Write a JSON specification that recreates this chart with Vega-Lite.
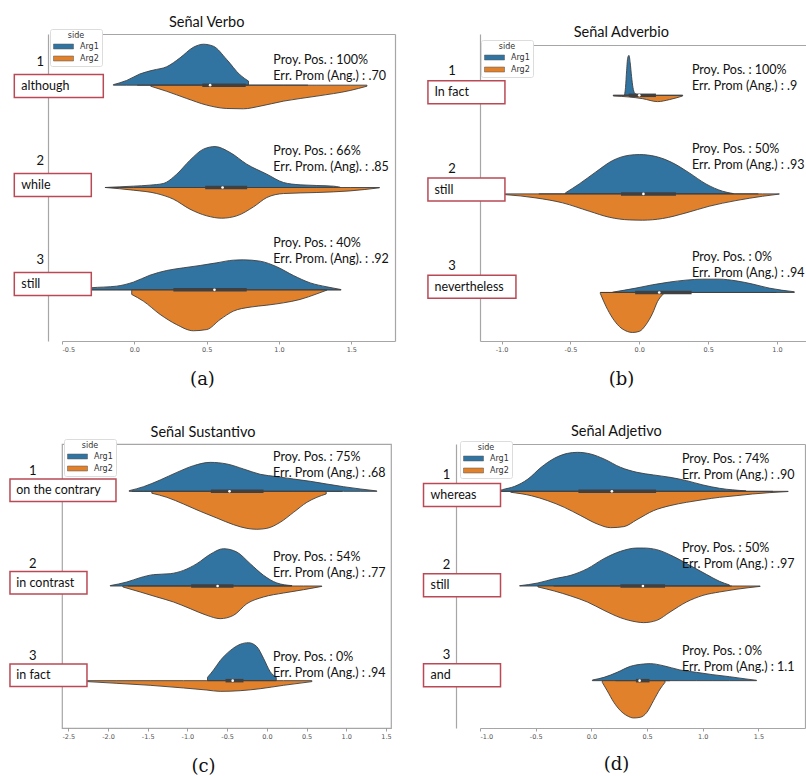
{
"$schema":"https://vega.github.io/schema/vega-lite/v6.json",
"padding":{"left":6,"top":14,"right":0,"bottom":0},
"config":{
 "view":{"stroke":"#a6a6a6","strokeWidth":1.2},
 "font":"Lato",
 "axis":{"grid":false,"domainColor":"#a6a6a6","domainWidth":1.2,"tickColor":"#888888","tickSize":3,"tickWidth":0.8,"labelFont":"DejaVu Sans","labelFontSize":6.5,"labelColor":"#555555","labelPadding":2,"titleFont":"DejaVu Serif","titleFontSize":18,"titleFontWeight":"normal","titleColor":"#111111"},
 "legend":{"titleFontSize":8,"titleFontWeight":"normal","titleFont":"DejaVu Sans","titleColor":"#333333","titleAnchor":"middle","titlePadding":1,"labelFontSize":8,"labelFont":"DejaVu Sans","labelColor":"#333333","labelOffset":11,"symbolType":"M-2,-0.5H2V0.5H-2Z","symbolSize":100,"symbolOffset":5,"symbolStrokeColor":"#555555","symbolStrokeWidth":0.5,"padding":3,"fillColor":"white","strokeColor":"#dcdcdc","cornerRadius":2,"rowPadding":2}
},
"datasets":{
"av":[
{"r":1,"s":"Arg1","x":-0.145,"d":0.005},{"r":1,"s":"Arg1","x":-0.053,"d":0.046},{"r":1,"s":"Arg1","x":0.039,"d":0.11},{"r":1,"s":"Arg1","x":0.131,"d":0.147},{"r":1,"s":"Arg1","x":0.224,"d":0.18},{"r":1,"s":"Arg1","x":0.316,"d":0.267},{"r":1,"s":"Arg1","x":0.408,"d":0.37},{"r":1,"s":"Arg1","x":0.478,"d":0.4},{"r":1,"s":"Arg1","x":0.547,"d":0.38},{"r":1,"s":"Arg1","x":0.639,"d":0.25},{"r":1,"s":"Arg1","x":0.731,"d":0.1},{"r":1,"s":"Arg1","x":0.789,"d":0.04},
{"r":1,"s":"Arg2","x":0.113,"d":0.01},{"r":1,"s":"Arg2","x":0.224,"d":0.06},{"r":1,"s":"Arg2","x":0.362,"d":0.13},{"r":1,"s":"Arg2","x":0.501,"d":0.195},{"r":1,"s":"Arg2","x":0.639,"d":0.228},{"r":1,"s":"Arg2","x":0.754,"d":0.231},{"r":1,"s":"Arg2","x":0.87,"d":0.205},{"r":1,"s":"Arg2","x":1.031,"d":0.156},{"r":1,"s":"Arg2","x":1.262,"d":0.107},{"r":1,"s":"Arg2","x":1.492,"d":0.052},{"r":1,"s":"Arg2","x":1.608,"d":0.01},
{"r":2,"s":"Arg1","x":-0.203,"d":0.0},{"r":2,"s":"Arg1","x":-0.007,"d":0.013},{"r":2,"s":"Arg1","x":0.108,"d":0.023},{"r":2,"s":"Arg1","x":0.2,"d":0.039},{"r":2,"s":"Arg1","x":0.293,"d":0.13},{"r":2,"s":"Arg1","x":0.385,"d":0.267},{"r":2,"s":"Arg1","x":0.478,"d":0.375},{"r":2,"s":"Arg1","x":0.558,"d":0.4},{"r":2,"s":"Arg1","x":0.662,"d":0.342},{"r":2,"s":"Arg1","x":0.777,"d":0.228},{"r":2,"s":"Arg1","x":0.916,"d":0.13},{"r":2,"s":"Arg1","x":1.031,"d":0.049},{"r":2,"s":"Arg1","x":1.146,"d":0.026},{"r":2,"s":"Arg1","x":1.377,"d":0.013},{"r":2,"s":"Arg1","x":1.423,"d":0.003},
{"r":2,"s":"Arg2","x":-0.2,"d":0.0},{"r":2,"s":"Arg2","x":-0.007,"d":0.026},{"r":2,"s":"Arg2","x":0.155,"d":0.059},{"r":2,"s":"Arg2","x":0.27,"d":0.114},{"r":2,"s":"Arg2","x":0.385,"d":0.212},{"r":2,"s":"Arg2","x":0.501,"d":0.277},{"r":2,"s":"Arg2","x":0.604,"d":0.3},{"r":2,"s":"Arg2","x":0.708,"d":0.277},{"r":2,"s":"Arg2","x":0.824,"d":0.189},{"r":2,"s":"Arg2","x":0.916,"d":0.098},{"r":2,"s":"Arg2","x":1.031,"d":0.059},{"r":2,"s":"Arg2","x":1.262,"d":0.049},{"r":2,"s":"Arg2","x":1.492,"d":0.033},{"r":2,"s":"Arg2","x":1.695,"d":0.003},
{"r":3,"s":"Arg1","x":-0.42,"d":0.0},{"r":3,"s":"Arg1","x":-0.3,"d":0.02},{"r":3,"s":"Arg1","x":-0.122,"d":0.036},{"r":3,"s":"Arg1","x":-0.007,"d":0.075},{"r":3,"s":"Arg1","x":0.108,"d":0.143},{"r":3,"s":"Arg1","x":0.224,"d":0.189},{"r":3,"s":"Arg1","x":0.339,"d":0.215},{"r":3,"s":"Arg1","x":0.455,"d":0.238},{"r":3,"s":"Arg1","x":0.57,"d":0.264},{"r":3,"s":"Arg1","x":0.685,"d":0.29},{"r":3,"s":"Arg1","x":0.754,"d":0.293},{"r":3,"s":"Arg1","x":0.87,"d":0.28},{"r":3,"s":"Arg1","x":0.985,"d":0.225},{"r":3,"s":"Arg1","x":1.1,"d":0.14},{"r":3,"s":"Arg1","x":1.216,"d":0.068},{"r":3,"s":"Arg1","x":1.331,"d":0.029},{"r":3,"s":"Arg1","x":1.428,"d":0.003},
{"r":3,"s":"Arg2","x":-0.018,"d":0.045},{"r":3,"s":"Arg2","x":0.062,"d":0.11},{"r":3,"s":"Arg2","x":0.178,"d":0.24},{"r":3,"s":"Arg2","x":0.293,"d":0.34},{"r":3,"s":"Arg2","x":0.408,"d":0.4},{"r":3,"s":"Arg2","x":0.501,"d":0.388},{"r":3,"s":"Arg2","x":0.593,"d":0.29},{"r":3,"s":"Arg2","x":0.685,"d":0.208},{"r":3,"s":"Arg2","x":0.8,"d":0.169},{"r":3,"s":"Arg2","x":0.916,"d":0.15},{"r":3,"s":"Arg2","x":1.031,"d":0.127},{"r":3,"s":"Arg2","x":1.146,"d":0.094},{"r":3,"s":"Arg2","x":1.262,"d":0.039},{"r":3,"s":"Arg2","x":1.331,"d":0.003}
],
"ar":[
{"r":1,"num":"1","label":"although","l1":"Proy. Pos. :  100%","l2":"Err. Prom (Ang.) : .70","wlo":0.02,"whi":1.2,"q1":0.47,"q3":0.77,"med":0.524},
{"r":2,"num":"2","label":"while","l1":"Proy. Pos. : 66%","l2":"Err. Prom. (Ang). : .85","wlo":0.055,"whi":1.215,"q1":0.49,"q3":0.78,"med":0.61},
{"r":3,"num":"3","label":"still","l1":"Proy. Pos. :  40%","l2":"Err. Prom. (Ang). : .92","wlo":-0.4,"whi":1.43,"q1":0.27,"q3":0.777,"med":0.554}
],
"bv":[
{"r":1,"s":"Arg1","x":-0.107,"d":0.005},{"r":1,"s":"Arg1","x":-0.1,"d":0.08},{"r":1,"s":"Arg1","x":-0.092,"d":0.25},{"r":1,"s":"Arg1","x":-0.084,"d":0.38},{"r":1,"s":"Arg1","x":-0.075,"d":0.405},{"r":1,"s":"Arg1","x":-0.066,"d":0.33},{"r":1,"s":"Arg1","x":-0.056,"d":0.19},{"r":1,"s":"Arg1","x":-0.046,"d":0.08},{"r":1,"s":"Arg1","x":-0.035,"d":0.025},{"r":1,"s":"Arg1","x":-0.017,"d":0.008},
{"r":1,"s":"Arg2","x":-0.189,"d":0.007},{"r":1,"s":"Arg2","x":-0.073,"d":0.017},{"r":1,"s":"Arg2","x":0.024,"d":0.034},{"r":1,"s":"Arg2","x":0.133,"d":0.064},{"r":1,"s":"Arg2","x":0.218,"d":0.044},{"r":1,"s":"Arg2","x":0.315,"d":0.007},
{"r":2,"s":"Arg1","x":-0.537,"d":0.01},{"r":2,"s":"Arg1","x":-0.436,"d":0.101},{"r":2,"s":"Arg1","x":-0.315,"d":0.223},{"r":2,"s":"Arg1","x":-0.194,"d":0.338},{"r":2,"s":"Arg1","x":-0.073,"d":0.392},{"r":2,"s":"Arg1","x":0.0,"d":0.399},{"r":2,"s":"Arg1","x":0.121,"d":0.379},{"r":2,"s":"Arg1","x":0.242,"d":0.315},{"r":2,"s":"Arg1","x":0.363,"d":0.213},{"r":2,"s":"Arg1","x":0.484,"d":0.101},{"r":2,"s":"Arg1","x":0.605,"d":0.027},{"r":2,"s":"Arg1","x":0.683,"d":0.003},
{"r":2,"s":"Arg2","x":-1.1,"d":0.0},{"r":2,"s":"Arg2","x":-0.98,"d":0.007},{"r":2,"s":"Arg2","x":-0.75,"d":0.041},{"r":2,"s":"Arg2","x":-0.557,"d":0.091},{"r":2,"s":"Arg2","x":-0.363,"d":0.176},{"r":2,"s":"Arg2","x":-0.218,"d":0.237},{"r":2,"s":"Arg2","x":-0.073,"d":0.264},{"r":2,"s":"Arg2","x":0.024,"d":0.267},{"r":2,"s":"Arg2","x":0.169,"d":0.25},{"r":2,"s":"Arg2","x":0.339,"d":0.193},{"r":2,"s":"Arg2","x":0.508,"d":0.125},{"r":2,"s":"Arg2","x":0.702,"d":0.068},{"r":2,"s":"Arg2","x":0.896,"d":0.024},{"r":2,"s":"Arg2","x":1.017,"d":0.002},
{"r":3,"s":"Arg1","x":-0.194,"d":0.003},{"r":3,"s":"Arg1","x":-0.024,"d":0.044},{"r":3,"s":"Arg1","x":0.097,"d":0.078},{"r":3,"s":"Arg1","x":0.218,"d":0.105},{"r":3,"s":"Arg1","x":0.339,"d":0.125},{"r":3,"s":"Arg1","x":0.46,"d":0.135},{"r":3,"s":"Arg1","x":0.581,"d":0.135},{"r":3,"s":"Arg1","x":0.702,"d":0.118},{"r":3,"s":"Arg1","x":0.823,"d":0.085},{"r":3,"s":"Arg1","x":0.944,"d":0.044},{"r":3,"s":"Arg1","x":1.126,"d":0.007},
{"r":3,"s":"Arg2","x":-0.283,"d":0.01},{"r":3,"s":"Arg2","x":-0.242,"d":0.14},{"r":3,"s":"Arg2","x":-0.194,"d":0.26},{"r":3,"s":"Arg2","x":-0.145,"d":0.345},{"r":3,"s":"Arg2","x":-0.097,"d":0.39},{"r":3,"s":"Arg2","x":-0.048,"d":0.406},{"r":3,"s":"Arg2","x":0.0,"d":0.395},{"r":3,"s":"Arg2","x":0.048,"d":0.328},{"r":3,"s":"Arg2","x":0.097,"d":0.21},{"r":3,"s":"Arg2","x":0.133,"d":0.091},{"r":3,"s":"Arg2","x":0.174,"d":0.017}
],
"br":[
{"r":1,"num":"1","label":"In fact","l1":"Proy. Pos. :  100%","l2":"Err. Prom (Ang.) : .9","wlo":-0.189,"whi":0.315,"q1":-0.077,"q3":0.121,"med":0.0},
{"r":2,"num":"2","label":"still","l1":"Proy. Pos. :  50%","l2":"Err. Prom (Ang.) : .93","wlo":-0.73,"whi":0.865,"q1":-0.133,"q3":0.266,"med":0.03},
{"r":3,"num":"3","label":"nevertheless","l1":"Proy. Pos. :  0%","l2":"Err. Prom (Ang.) : .94","wlo":-0.283,"whi":0.995,"q1":-0.03,"q3":0.38,"med":0.145}
],
"cv":[
{"r":1,"s":"Arg1","x":-1.733,"d":0.007},{"r":1,"s":"Arg1","x":-1.553,"d":0.049},{"r":1,"s":"Arg1","x":-1.343,"d":0.12},{"r":1,"s":"Arg1","x":-1.133,"d":0.2},{"r":1,"s":"Arg1","x":-0.923,"d":0.271},{"r":1,"s":"Arg1","x":-0.713,"d":0.306},{"r":1,"s":"Arg1","x":-0.504,"d":0.289},{"r":1,"s":"Arg1","x":-0.294,"d":0.236},{"r":1,"s":"Arg1","x":-0.084,"d":0.18},{"r":1,"s":"Arg1","x":0.126,"d":0.155},{"r":1,"s":"Arg1","x":0.336,"d":0.13},{"r":1,"s":"Arg1","x":0.546,"d":0.106},{"r":1,"s":"Arg1","x":0.755,"d":0.077},{"r":1,"s":"Arg1","x":0.965,"d":0.049},{"r":1,"s":"Arg1","x":1.175,"d":0.025},{"r":1,"s":"Arg1","x":1.385,"d":0.004},
{"r":1,"s":"Arg2","x":-1.448,"d":0.02},{"r":1,"s":"Arg2","x":-1.259,"d":0.063},{"r":1,"s":"Arg2","x":-1.049,"d":0.134},{"r":1,"s":"Arg2","x":-0.839,"d":0.211},{"r":1,"s":"Arg2","x":-0.629,"d":0.282},{"r":1,"s":"Arg2","x":-0.42,"d":0.352},{"r":1,"s":"Arg2","x":-0.252,"d":0.391},{"r":1,"s":"Arg2","x":-0.126,"d":0.401},{"r":1,"s":"Arg2","x":0.0,"d":0.391},{"r":1,"s":"Arg2","x":0.168,"d":0.327},{"r":1,"s":"Arg2","x":0.336,"d":0.222},{"r":1,"s":"Arg2","x":0.504,"d":0.116},{"r":1,"s":"Arg2","x":0.63,"d":0.063},{"r":1,"s":"Arg2","x":0.747,"d":0.028},
{"r":2,"s":"Arg1","x":-1.972,"d":0.004},{"r":2,"s":"Arg1","x":-1.763,"d":0.042},{"r":2,"s":"Arg1","x":-1.595,"d":0.088},{"r":2,"s":"Arg1","x":-1.427,"d":0.12},{"r":2,"s":"Arg1","x":-1.217,"d":0.13},{"r":2,"s":"Arg1","x":-1.049,"d":0.165},{"r":2,"s":"Arg1","x":-0.881,"d":0.236},{"r":2,"s":"Arg1","x":-0.713,"d":0.335},{"r":2,"s":"Arg1","x":-0.546,"d":0.394},{"r":2,"s":"Arg1","x":-0.378,"d":0.359},{"r":2,"s":"Arg1","x":-0.21,"d":0.236},{"r":2,"s":"Arg1","x":-0.042,"d":0.113},{"r":2,"s":"Arg1","x":0.126,"d":0.032},{"r":2,"s":"Arg1","x":0.315,"d":0.004},
{"r":2,"s":"Arg2","x":-1.813,"d":0.01},{"r":2,"s":"Arg2","x":-1.595,"d":0.063},{"r":2,"s":"Arg2","x":-1.385,"d":0.116},{"r":2,"s":"Arg2","x":-1.175,"d":0.169},{"r":2,"s":"Arg2","x":-0.965,"d":0.239},{"r":2,"s":"Arg2","x":-0.755,"d":0.31},{"r":2,"s":"Arg2","x":-0.588,"d":0.345},{"r":2,"s":"Arg2","x":-0.42,"d":0.31},{"r":2,"s":"Arg2","x":-0.252,"d":0.187},{"r":2,"s":"Arg2","x":-0.042,"d":0.116},{"r":2,"s":"Arg2","x":0.21,"d":0.074},{"r":2,"s":"Arg2","x":0.462,"d":0.039},{"r":2,"s":"Arg2","x":0.692,"d":0.004},
{"r":3,"s":"Arg1","x":-0.747,"d":0.035},{"r":3,"s":"Arg1","x":-0.671,"d":0.113},{"r":3,"s":"Arg1","x":-0.588,"d":0.211},{"r":3,"s":"Arg1","x":-0.462,"d":0.317},{"r":3,"s":"Arg1","x":-0.336,"d":0.384},{"r":3,"s":"Arg1","x":-0.231,"d":0.401},{"r":3,"s":"Arg1","x":-0.126,"d":0.359},{"r":3,"s":"Arg1","x":-0.042,"d":0.236},{"r":3,"s":"Arg1","x":0.042,"d":0.095},{"r":3,"s":"Arg1","x":0.118,"d":0.035},
{"r":3,"s":"Arg2","x":-2.45,"d":0.0},{"r":3,"s":"Arg2","x":-2.258,"d":0.01},{"r":3,"s":"Arg2","x":-1.888,"d":0.028},{"r":3,"s":"Arg2","x":-1.469,"d":0.049},{"r":3,"s":"Arg2","x":-1.049,"d":0.077},{"r":3,"s":"Arg2","x":-0.755,"d":0.099},{"r":3,"s":"Arg2","x":-0.588,"d":0.113},{"r":3,"s":"Arg2","x":-0.336,"d":0.106},{"r":3,"s":"Arg2","x":-0.084,"d":0.085},{"r":3,"s":"Arg2","x":0.21,"d":0.049},{"r":3,"s":"Arg2","x":0.567,"d":0.01}
],
"cr":[
{"r":1,"num":"1","label":"on the contrary","l1":"Proy. Pos. :  75%","l2":"Err. Prom (Ang.) : .68","wlo":-1.7,"whi":0.95,"q1":-0.705,"q3":-0.042,"med":-0.47},
{"r":2,"num":"2","label":"in contrast","l1":"Proy. Pos. :  54%","l2":"Err. Prom (Ang.) : .77","wlo":-1.75,"whi":0.315,"q1":-0.953,"q3":-0.42,"med":-0.62},
{"r":3,"num":"3","label":"in fact","l1":"Proy. Pos. :  0%","l2":"Err. Prom (Ang.) : .94","wlo":-0.747,"whi":0.118,"q1":-0.52,"q3":-0.294,"med":-0.43}
],
"dv":[
{"r":1,"s":"Arg1","x":-0.85,"d":0.0},{"r":1,"s":"Arg1","x":-0.798,"d":0.018},{"r":1,"s":"Arg1","x":-0.688,"d":0.053},{"r":1,"s":"Arg1","x":-0.569,"d":0.13},{"r":1,"s":"Arg1","x":-0.451,"d":0.254},{"r":1,"s":"Arg1","x":-0.332,"d":0.349},{"r":1,"s":"Arg1","x":-0.214,"d":0.401},{"r":1,"s":"Arg1","x":-0.125,"d":0.412},{"r":1,"s":"Arg1","x":-0.006,"d":0.394},{"r":1,"s":"Arg1","x":0.113,"d":0.342},{"r":1,"s":"Arg1","x":0.261,"d":0.254},{"r":1,"s":"Arg1","x":0.409,"d":0.201},{"r":1,"s":"Arg1","x":0.558,"d":0.173},{"r":1,"s":"Arg1","x":0.706,"d":0.148},{"r":1,"s":"Arg1","x":0.854,"d":0.113},{"r":1,"s":"Arg1","x":1.002,"d":0.067},{"r":1,"s":"Arg1","x":1.151,"d":0.032},{"r":1,"s":"Arg1","x":1.388,"d":0.005},
{"r":1,"s":"Arg2","x":-0.724,"d":0.01},{"r":1,"s":"Arg2","x":-0.54,"d":0.046},{"r":1,"s":"Arg2","x":-0.391,"d":0.099},{"r":1,"s":"Arg2","x":-0.243,"d":0.169},{"r":1,"s":"Arg2","x":-0.095,"d":0.257},{"r":1,"s":"Arg2","x":0.053,"d":0.345},{"r":1,"s":"Arg2","x":0.172,"d":0.384},{"r":1,"s":"Arg2","x":0.291,"d":0.373},{"r":1,"s":"Arg2","x":0.409,"d":0.299},{"r":1,"s":"Arg2","x":0.558,"d":0.204},{"r":1,"s":"Arg2","x":0.706,"d":0.151},{"r":1,"s":"Arg2","x":0.854,"d":0.116},{"r":1,"s":"Arg2","x":1.002,"d":0.088},{"r":1,"s":"Arg2","x":1.151,"d":0.063},{"r":1,"s":"Arg2","x":1.299,"d":0.046},{"r":1,"s":"Arg2","x":1.447,"d":0.028},{"r":1,"s":"Arg2","x":1.596,"d":0.014},{"r":1,"s":"Arg2","x":1.767,"d":0.002},
{"r":2,"s":"Arg1","x":-0.644,"d":0.003},{"r":2,"s":"Arg1","x":-0.48,"d":0.032},{"r":2,"s":"Arg1","x":-0.332,"d":0.077},{"r":2,"s":"Arg1","x":-0.184,"d":0.113},{"r":2,"s":"Arg1","x":-0.036,"d":0.183},{"r":2,"s":"Arg1","x":0.113,"d":0.289},{"r":2,"s":"Arg1","x":0.261,"d":0.366},{"r":2,"s":"Arg1","x":0.409,"d":0.401},{"r":2,"s":"Arg1","x":0.469,"d":0.401},{"r":2,"s":"Arg1","x":0.587,"d":0.384},{"r":2,"s":"Arg1","x":0.735,"d":0.313},{"r":2,"s":"Arg1","x":0.884,"d":0.218},{"r":2,"s":"Arg1","x":1.032,"d":0.123},{"r":2,"s":"Arg1","x":1.151,"d":0.049},{"r":2,"s":"Arg1","x":1.24,"d":0.011},
{"r":2,"s":"Arg2","x":-0.48,"d":0.01},{"r":2,"s":"Arg2","x":-0.332,"d":0.053},{"r":2,"s":"Arg2","x":-0.184,"d":0.106},{"r":2,"s":"Arg2","x":-0.036,"d":0.169},{"r":2,"s":"Arg2","x":0.113,"d":0.257},{"r":2,"s":"Arg2","x":0.261,"d":0.335},{"r":2,"s":"Arg2","x":0.409,"d":0.38},{"r":2,"s":"Arg2","x":0.469,"d":0.387},{"r":2,"s":"Arg2","x":0.587,"d":0.363},{"r":2,"s":"Arg2","x":0.706,"d":0.275},{"r":2,"s":"Arg2","x":0.854,"d":0.169},{"r":2,"s":"Arg2","x":1.002,"d":0.099},{"r":2,"s":"Arg2","x":1.151,"d":0.063},{"r":2,"s":"Arg2","x":1.299,"d":0.035},{"r":2,"s":"Arg2","x":1.515,"d":0.004},
{"r":3,"s":"Arg1","x":0.009,"d":0.007},{"r":3,"s":"Arg1","x":0.113,"d":0.035},{"r":3,"s":"Arg1","x":0.231,"d":0.088},{"r":3,"s":"Arg1","x":0.35,"d":0.151},{"r":3,"s":"Arg1","x":0.469,"d":0.176},{"r":3,"s":"Arg1","x":0.528,"d":0.18},{"r":3,"s":"Arg1","x":0.646,"d":0.158},{"r":3,"s":"Arg1","x":0.795,"d":0.113},{"r":3,"s":"Arg1","x":0.943,"d":0.088},{"r":3,"s":"Arg1","x":1.091,"d":0.063},{"r":3,"s":"Arg1","x":1.24,"d":0.042},{"r":3,"s":"Arg1","x":1.388,"d":0.018},{"r":3,"s":"Arg1","x":1.483,"d":0.004},
{"r":3,"s":"Arg2","x":0.098,"d":0.018},{"r":3,"s":"Arg2","x":0.142,"d":0.106},{"r":3,"s":"Arg2","x":0.202,"d":0.229},{"r":3,"s":"Arg2","x":0.261,"d":0.317},{"r":3,"s":"Arg2","x":0.32,"d":0.37},{"r":3,"s":"Arg2","x":0.38,"d":0.394},{"r":3,"s":"Arg2","x":0.439,"d":0.387},{"r":3,"s":"Arg2","x":0.498,"d":0.335},{"r":3,"s":"Arg2","x":0.558,"d":0.211},{"r":3,"s":"Arg2","x":0.617,"d":0.088},{"r":3,"s":"Arg2","x":0.661,"d":0.018}
],
"dr":[
{"r":1,"num":"1","label":"whereas","l1":"Proy. Pos. :  74%","l2":"Err. Prom (Ang.) : .90","wlo":-0.85,"whi":1.63,"q1":-0.116,"q3":0.581,"med":0.184},
{"r":2,"num":"2","label":"still","l1":"Proy. Pos. :  50%","l2":"Err. Prom (Ang.) : .97","wlo":-0.34,"whi":1.26,"q1":0.261,"q3":0.661,"med":0.463},
{"r":3,"num":"3","label":"and","l1":"Proy. Pos. :  0%","l2":"Err. Prom (Ang.) : 1.1","wlo":0.217,"whi":0.705,"q1":0.4,"q3":0.522,"med":0.433}
]
},
"columns":2,
"align":"none",
"bounds":"flush",
"spacing":{"row":103,"column":85},
"resolve":{"scale":{"color":"independent"},"legend":{"color":"independent"}},
"concat":[
{
"width":333,"height":307,"view":{"stroke":null},
"title":{"text":"Señal Verbo","font":"Lato","fontSize":14.5,"fontWeight":"normal","color":"#111111","anchor":"middle","frame":"group","dx":-21.8,"offset":-8.5,"baseline":"middle"},
"resolve":{"scale":{"y":"independent"},"axis":{"x":"independent","y":"independent"}},
"layer":[
{"data":{"name":"av"},"transform":[{"filter":"datum.r==1 && datum.s=='Arg1'"}],"mark":{"type":"area","orient":"vertical","interpolate":"monotone","stroke":"#404040","strokeWidth":0.9,"opacity":1},
 "encoding":{"x":{"field":"x","type":"quantitative","scale":{"domain":[-0.5,1.802],"nice":false,"zero":false},"axis":{"values":[-0.5,0,0.5,1,1.5],"labelExpr":"replace(format(datum.value,'.1f'),'−','-')","title":"(a)","titleX":140,"titleY":38,"titleBaseline":"middle","titleAlign":"center"}},
 "y":{"field":"d","type":"quantitative","scale":{"domain":[-2.5,0.5],"nice":false,"zero":false},"axis":null},"y2":{"datum":0},
 "color":{"field":"s","type":"nominal","scale":{"domain":["Arg1","Arg2"],"range":["#3274a1","#e1812c"]},"legend":{"orient":"none","legendX":-12,"legendY":-5,"title":"side"}}}},
{"data":{"name":"av"},"transform":[{"filter":"datum.r==1 && datum.s=='Arg2'"}],"mark":{"type":"area","orient":"vertical","interpolate":"monotone","stroke":"#404040","strokeWidth":0.9,"opacity":1},
 "encoding":{"x":{"field":"x","type":"quantitative","scale":{"domain":[-0.5,1.802],"nice":false,"zero":false},"axis":null},
 "y":{"field":"d","type":"quantitative","scale":{"domain":[-0.5,2.5],"reverse":true,"nice":false,"zero":false},"axis":null},"y2":{"datum":0},
 "color":{"field":"s","type":"nominal","scale":{"domain":["Arg1","Arg2"],"range":["#3274a1","#e1812c"]}}}},
{"data":{"name":"av"},"transform":[{"filter":"datum.r==2 && datum.s=='Arg1'"}],"mark":{"type":"area","orient":"vertical","interpolate":"monotone","stroke":"#404040","strokeWidth":0.9,"opacity":1},
 "encoding":{"x":{"field":"x","type":"quantitative","scale":{"domain":[-0.5,1.802],"nice":false,"zero":false},"axis":null},
 "y":{"field":"d","type":"quantitative","scale":{"domain":[-1.5,1.5],"nice":false,"zero":false},"axis":null},"y2":{"datum":0},
 "color":{"field":"s","type":"nominal","scale":{"domain":["Arg1","Arg2"],"range":["#3274a1","#e1812c"]}}}},
{"data":{"name":"av"},"transform":[{"filter":"datum.r==2 && datum.s=='Arg2'"}],"mark":{"type":"area","orient":"vertical","interpolate":"monotone","stroke":"#404040","strokeWidth":0.9,"opacity":1},
 "encoding":{"x":{"field":"x","type":"quantitative","scale":{"domain":[-0.5,1.802],"nice":false,"zero":false},"axis":null},
 "y":{"field":"d","type":"quantitative","scale":{"domain":[-1.5,1.5],"reverse":true,"nice":false,"zero":false},"axis":null},"y2":{"datum":0},
 "color":{"field":"s","type":"nominal","scale":{"domain":["Arg1","Arg2"],"range":["#3274a1","#e1812c"]}}}},
{"data":{"name":"av"},"transform":[{"filter":"datum.r==3 && datum.s=='Arg1'"}],"mark":{"type":"area","orient":"vertical","interpolate":"monotone","stroke":"#404040","strokeWidth":0.9,"opacity":1},
 "encoding":{"x":{"field":"x","type":"quantitative","scale":{"domain":[-0.5,1.802],"nice":false,"zero":false},"axis":null},
 "y":{"field":"d","type":"quantitative","scale":{"domain":[-0.5,2.5],"nice":false,"zero":false},"axis":null},"y2":{"datum":0},
 "color":{"field":"s","type":"nominal","scale":{"domain":["Arg1","Arg2"],"range":["#3274a1","#e1812c"]}}}},
{"data":{"name":"av"},"transform":[{"filter":"datum.r==3 && datum.s=='Arg2'"}],"mark":{"type":"area","orient":"vertical","interpolate":"monotone","stroke":"#404040","strokeWidth":0.9,"opacity":1},
 "encoding":{"x":{"field":"x","type":"quantitative","scale":{"domain":[-0.5,1.802],"nice":false,"zero":false},"axis":null},
 "y":{"field":"d","type":"quantitative","scale":{"domain":[-2.5,0.5],"reverse":true,"nice":false,"zero":false},"axis":null},"y2":{"datum":0},
 "color":{"field":"s","type":"nominal","scale":{"domain":["Arg1","Arg2"],"range":["#3274a1","#e1812c"]}}}},
{"data":{"name":"ar"},"mark":{"type":"rule","color":"#404040","strokeWidth":1},
 "encoding":{"x":{"field":"wlo","type":"quantitative","scale":{"domain":[-0.5,1.802],"nice":false,"zero":false},"axis":null},"x2":{"field":"whi"},
 "y":{"field":"r","type":"quantitative","scale":{"domain":[0.5,3.5],"reverse":true,"nice":false,"zero":false},"axis":null}}},
{"data":{"name":"ar"},"mark":{"type":"rule","color":"#404040","strokeWidth":3.5},
 "encoding":{"x":{"field":"q1","type":"quantitative","scale":{"domain":[-0.5,1.802],"nice":false,"zero":false},"axis":null},"x2":{"field":"q3"},
 "y":{"field":"r","type":"quantitative","scale":{"domain":[0.5,3.5],"reverse":true,"nice":false,"zero":false},"axis":null}}},
{"data":{"name":"ar"},"mark":{"type":"circle","color":"white","size":7,"opacity":1},
 "encoding":{"x":{"field":"med","type":"quantitative","scale":{"domain":[-0.5,1.802],"nice":false,"zero":false},"axis":null},
 "y":{"field":"r","type":"quantitative","scale":{"domain":[0.5,3.5],"reverse":true,"nice":false,"zero":false},"axis":null}}},
{"data":{"name":"ar"},"transform":[{"filter":"datum.label!='although'"}],"mark":{"type":"point","shape":"M-1,-0.2987H1V0.2987H-1Z","size":5929,"filled":true,"fill":"white","stroke":"#b94a55","strokeWidth":1.5,"opacity":1},
 "encoding":{"x":{"datum":-0.5636,"type":"quantitative","scale":{"domain":[-0.5,1.802],"nice":false,"zero":false},"axis":null},
 "y":{"field":"r","type":"quantitative","scale":{"domain":[0.4737,3.5747],"reverse":true,"nice":false,"zero":false},"axis":null}}},
{"data":{"name":"ar"},"transform":[{"filter":"datum.label=='although'"}],"mark":{"type":"point","shape":"M-1,-0.2584H1V0.2584H-1Z","size":7921,"filled":true,"fill":"white","stroke":"#b94a55","strokeWidth":1.5,"opacity":1},
 "encoding":{"x":{"datum":-0.5221,"type":"quantitative","scale":{"domain":[-0.5,1.802],"nice":false,"zero":false},"axis":null},
 "y":{"field":"r","type":"quantitative","scale":{"domain":[0.4737,3.5747],"reverse":true,"nice":false,"zero":false},"axis":null}}},
{"data":{"name":"ar"},"mark":{"type":"text","align":"left","baseline":"middle","font":"Lato","fontSize":12.5,"color":"#111111"},
 "encoding":{"x":{"datum":-0.7814,"type":"quantitative","scale":{"domain":[-0.5,1.802],"nice":false,"zero":false},"axis":null},
 "y":{"field":"r","type":"quantitative","scale":{"domain":[0.4737,3.5747],"reverse":true,"nice":false,"zero":false},"axis":{"orient":"left","offset":14,"labels":false,"ticks":false,"title":null,"grid":false}},"text":{"field":"label"}}},
{"data":{"name":"ar"},"mark":{"type":"text","align":"center","baseline":"middle","dy":-24,"font":"Lato","fontSize":13,"color":"#111111"},
 "encoding":{"x":{"datum":-0.65,"type":"quantitative","scale":{"domain":[-0.5,1.802],"nice":false,"zero":false},"axis":null},
 "y":{"field":"r","type":"quantitative","scale":{"domain":[0.4737,3.5747],"reverse":true,"nice":false,"zero":false},"axis":{"orient":"right","labels":false,"ticks":false,"title":null,"grid":false}},"text":{"field":"num"}}},
{"data":{"name":"ar"},"mark":{"type":"text","align":"left","baseline":"middle","font":"Lato","fontSize":12.5,"color":"#111111"},
 "encoding":{"x":{"datum":0.9608,"type":"quantitative","scale":{"domain":[-0.5,1.802],"nice":false,"zero":false},"axis":{"orient":"top","labels":false,"ticks":false,"title":null,"grid":false}},
 "y":{"field":"r","type":"quantitative","scale":{"domain":[0.7213,4.0765],"reverse":true,"nice":false,"zero":false},"axis":null},"text":{"field":"l1"}}},
{"data":{"name":"ar"},"mark":{"type":"text","align":"left","baseline":"middle","dy":16,"font":"Lato","fontSize":12.5,"color":"#111111"},
 "encoding":{"x":{"datum":0.9608,"type":"quantitative","scale":{"domain":[-0.5,1.802],"nice":false,"zero":false},"axis":null},
 "y":{"field":"r","type":"quantitative","scale":{"domain":[0.7213,4.0765],"reverse":true,"nice":false,"zero":false},"axis":null},"text":{"field":"l2"}}}
]
},
{
"width":326,"height":307,"view":{"stroke":null},
"title":{"text":"Señal Adverbio","font":"Lato","fontSize":14.5,"fontWeight":"normal","color":"#111111","anchor":"middle","frame":"group","dx":-21.7,"offset":-13,"baseline":"middle"},
"resolve":{"scale":{"y":"independent"},"axis":{"x":"independent","y":"independent"}},
"layer":[
{"data":{"name":"bv"},"transform":[{"filter":"datum.r==1 && datum.s=='Arg1'"}],"mark":{"type":"area","orient":"vertical","interpolate":"monotone","stroke":"#404040","strokeWidth":0.9,"opacity":1},
 "encoding":{"x":{"field":"x","type":"quantitative","scale":{"domain":[-1.157,1.211],"nice":false,"zero":false},"axis":{"values":[-1,-0.5,0,0.5,1],"labelExpr":"replace(format(datum.value,'.1f'),'−','-')","title":"(b)","titleX":141,"titleY":38,"titleBaseline":"middle","titleAlign":"center"}},
 "y":{"field":"d","type":"quantitative","scale":{"domain":[-2.4925,0.622],"nice":false,"zero":false},"axis":null},"y2":{"datum":0},
 "color":{"field":"s","type":"nominal","scale":{"domain":["Arg1","Arg2"],"range":["#3274a1","#e1812c"]},"legend":{"orient":"none","legendX":1,"legendY":6,"title":"side"}}}},
{"data":{"name":"bv"},"transform":[{"filter":"datum.r==1 && datum.s=='Arg2'"}],"mark":{"type":"area","orient":"vertical","interpolate":"monotone","stroke":"#404040","strokeWidth":0.9,"opacity":1},
 "encoding":{"x":{"field":"x","type":"quantitative","scale":{"domain":[-1.157,1.211],"nice":false,"zero":false},"axis":null},
 "y":{"field":"d","type":"quantitative","scale":{"domain":[-0.622,2.4925],"reverse":true,"nice":false,"zero":false},"axis":null},"y2":{"datum":0},
 "color":{"field":"s","type":"nominal","scale":{"domain":["Arg1","Arg2"],"range":["#3274a1","#e1812c"]}}}},
{"data":{"name":"bv"},"transform":[{"filter":"datum.r==2 && datum.s=='Arg1'"}],"mark":{"type":"area","orient":"vertical","interpolate":"monotone","stroke":"#404040","strokeWidth":0.9,"opacity":1},
 "encoding":{"x":{"field":"x","type":"quantitative","scale":{"domain":[-1.157,1.211],"nice":false,"zero":false},"axis":null},
 "y":{"field":"d","type":"quantitative","scale":{"domain":[-1.4925,1.622],"nice":false,"zero":false},"axis":null},"y2":{"datum":0},
 "color":{"field":"s","type":"nominal","scale":{"domain":["Arg1","Arg2"],"range":["#3274a1","#e1812c"]}}}},
{"data":{"name":"bv"},"transform":[{"filter":"datum.r==2 && datum.s=='Arg2'"}],"mark":{"type":"area","orient":"vertical","interpolate":"monotone","stroke":"#404040","strokeWidth":0.9,"opacity":1},
 "encoding":{"x":{"field":"x","type":"quantitative","scale":{"domain":[-1.157,1.211],"nice":false,"zero":false},"axis":null},
 "y":{"field":"d","type":"quantitative","scale":{"domain":[-1.622,1.4925],"reverse":true,"nice":false,"zero":false},"axis":null},"y2":{"datum":0},
 "color":{"field":"s","type":"nominal","scale":{"domain":["Arg1","Arg2"],"range":["#3274a1","#e1812c"]}}}},
{"data":{"name":"bv"},"transform":[{"filter":"datum.r==3 && datum.s=='Arg1'"}],"mark":{"type":"area","orient":"vertical","interpolate":"monotone","stroke":"#404040","strokeWidth":0.9,"opacity":1},
 "encoding":{"x":{"field":"x","type":"quantitative","scale":{"domain":[-1.157,1.211],"nice":false,"zero":false},"axis":null},
 "y":{"field":"d","type":"quantitative","scale":{"domain":[-0.4925,2.622],"nice":false,"zero":false},"axis":null},"y2":{"datum":0},
 "color":{"field":"s","type":"nominal","scale":{"domain":["Arg1","Arg2"],"range":["#3274a1","#e1812c"]}}}},
{"data":{"name":"bv"},"transform":[{"filter":"datum.r==3 && datum.s=='Arg2'"}],"mark":{"type":"area","orient":"vertical","interpolate":"monotone","stroke":"#404040","strokeWidth":0.9,"opacity":1},
 "encoding":{"x":{"field":"x","type":"quantitative","scale":{"domain":[-1.157,1.211],"nice":false,"zero":false},"axis":null},
 "y":{"field":"d","type":"quantitative","scale":{"domain":[-2.622,0.4925],"reverse":true,"nice":false,"zero":false},"axis":null},"y2":{"datum":0},
 "color":{"field":"s","type":"nominal","scale":{"domain":["Arg1","Arg2"],"range":["#3274a1","#e1812c"]}}}},
{"data":{"name":"br"},"mark":{"type":"rule","color":"#404040","strokeWidth":1},
 "encoding":{"x":{"field":"wlo","type":"quantitative","scale":{"domain":[-1.157,1.211],"nice":false,"zero":false},"axis":null},"x2":{"field":"whi"},
 "y":{"field":"r","type":"quantitative","scale":{"domain":[0.378,3.4925],"reverse":true,"nice":false,"zero":false},"axis":null}}},
{"data":{"name":"br"},"mark":{"type":"rule","color":"#404040","strokeWidth":3.5},
 "encoding":{"x":{"field":"q1","type":"quantitative","scale":{"domain":[-1.157,1.211],"nice":false,"zero":false},"axis":null},"x2":{"field":"q3"},
 "y":{"field":"r","type":"quantitative","scale":{"domain":[0.378,3.4925],"reverse":true,"nice":false,"zero":false},"axis":null}}},
{"data":{"name":"br"},"mark":{"type":"circle","color":"white","size":7,"opacity":1},
 "encoding":{"x":{"field":"med","type":"quantitative","scale":{"domain":[-1.157,1.211],"nice":false,"zero":false},"axis":null},
 "y":{"field":"r","type":"quantitative","scale":{"domain":[0.378,3.4925],"reverse":true,"nice":false,"zero":false},"axis":null}}},
{"data":{"name":"br"},"transform":[{"filter":"datum.label!='nevertheless'"}],"mark":{"type":"point","shape":"M-1,-0.2987H1V0.2987H-1Z","size":5929,"filled":true,"fill":"white","stroke":"#b94a55","strokeWidth":1.5,"opacity":1},
 "encoding":{"x":{"datum":-1.2555,"type":"quantitative","scale":{"domain":[-1.157,1.211],"nice":false,"zero":false},"axis":null},
 "y":{"field":"r","type":"quantitative","scale":{"domain":[0.401,3.5578],"reverse":true,"nice":false,"zero":false},"axis":null}}},
{"data":{"name":"br"},"transform":[{"filter":"datum.label=='nevertheless'"}],"mark":{"type":"point","shape":"M-1,-0.2614H1V0.2614H-1Z","size":7744,"filled":true,"fill":"white","stroke":"#b94a55","strokeWidth":1.5,"opacity":1},
 "encoding":{"x":{"datum":-1.2155,"type":"quantitative","scale":{"domain":[-1.157,1.211],"nice":false,"zero":false},"axis":null},
 "y":{"field":"r","type":"quantitative","scale":{"domain":[0.401,3.5578],"reverse":true,"nice":false,"zero":false},"axis":null}}},
{"data":{"name":"br"},"mark":{"type":"text","align":"left","baseline":"middle","font":"Lato","fontSize":12.5,"color":"#111111"},
 "encoding":{"x":{"datum":-1.4879,"type":"quantitative","scale":{"domain":[-1.157,1.211],"nice":false,"zero":false},"axis":null},
 "y":{"field":"r","type":"quantitative","scale":{"domain":[0.401,3.5578],"reverse":true,"nice":false,"zero":false},"axis":{"orient":"left","labels":false,"ticks":false,"title":null,"grid":false}},"text":{"field":"label"}}},
{"data":{"name":"br"},"mark":{"type":"text","align":"center","baseline":"middle","dy":-21,"font":"Lato","fontSize":13,"color":"#111111"},
 "encoding":{"x":{"datum":-1.3608,"type":"quantitative","scale":{"domain":[-1.157,1.211],"nice":false,"zero":false},"axis":null},
 "y":{"field":"r","type":"quantitative","scale":{"domain":[0.401,3.5578],"reverse":true,"nice":false,"zero":false},"axis":null},"text":{"field":"num"}}},
{"data":{"name":"br"},"transform":[{"filter":"datum.r!=2"}],"mark":{"type":"text","align":"left","baseline":"middle","font":"Lato","fontSize":12.5,"color":"#111111"},
 "encoding":{"x":{"datum":0.3825,"type":"quantitative","scale":{"domain":[-1.157,1.211],"nice":false,"zero":false},"axis":{"orient":"top","offset":-11,"labels":false,"ticks":false,"title":null,"grid":false}},
 "y":{"field":"r","type":"quantitative","scale":{"domain":[0.615,3.8984],"reverse":true,"nice":false,"zero":false},"axis":null},"text":{"field":"l1"}}},
{"data":{"name":"br"},"transform":[{"filter":"datum.r!=2"}],"mark":{"type":"text","align":"left","baseline":"middle","dy":16,"font":"Lato","fontSize":12.5,"color":"#111111"},
 "encoding":{"x":{"datum":0.3825,"type":"quantitative","scale":{"domain":[-1.157,1.211],"nice":false,"zero":false},"axis":null},
 "y":{"field":"r","type":"quantitative","scale":{"domain":[0.615,3.8984],"reverse":true,"nice":false,"zero":false},"axis":null},"text":{"field":"l2"}}},
{"data":{"name":"br"},"transform":[{"filter":"datum.r==2"}],"mark":{"type":"text","align":"left","baseline":"middle","dy":-14.5,"font":"Lato","fontSize":12.5,"color":"#111111"},
 "encoding":{"x":{"datum":0.3825,"type":"quantitative","scale":{"domain":[-1.157,1.211],"nice":false,"zero":false},"axis":null},
 "y":{"field":"r","type":"quantitative","scale":{"domain":[0.615,3.8984],"reverse":true,"nice":false,"zero":false},"axis":null},"text":{"field":"l1"}}},
{"data":{"name":"br"},"transform":[{"filter":"datum.r==2"}],"mark":{"type":"text","align":"left","baseline":"middle","dy":1.5,"font":"Lato","fontSize":12.5,"color":"#111111"},
 "encoding":{"x":{"datum":0.3825,"type":"quantitative","scale":{"domain":[-1.157,1.211],"nice":false,"zero":false},"axis":null},
 "y":{"field":"r","type":"quantitative","scale":{"domain":[0.615,3.8984],"reverse":true,"nice":false,"zero":false},"axis":null},"text":{"field":"l2"}}}
]
},
{
"width":329,"height":284,
"title":{"text":"Señal Sustantivo","font":"Lato","fontSize":14.5,"fontWeight":"normal","color":"#111111","anchor":"middle","frame":"group","dx":-23.5,"offset":-9,"baseline":"middle"},
"resolve":{"scale":{"y":"independent"},"axis":{"x":"independent","y":"independent"}},
"layer":[
{"data":{"name":"cv"},"transform":[{"filter":"datum.r==1 && datum.s=='Arg1'"}],"mark":{"type":"area","orient":"vertical","interpolate":"monotone","stroke":"#404040","strokeWidth":0.9,"opacity":1},
 "encoding":{"x":{"field":"x","type":"quantitative","scale":{"domain":[-2.579,1.563],"nice":false,"zero":false},"axis":{"values":[-2.5,-2,-1.5,-1,-0.5,0,0.5,1,1.5],"domain":false,"labelExpr":"replace(format(datum.value,'.1f'),'−','-')","title":"(c)","titleX":141,"titleY":38,"titleBaseline":"middle","titleAlign":"center"}},
 "y":{"field":"d","type":"quantitative","scale":{"domain":[-2.5,0.5],"nice":false,"zero":false},"axis":null},"y2":{"datum":0},
 "color":{"field":"s","type":"nominal","scale":{"domain":["Arg1","Arg2"],"range":["#3274a1","#e1812c"]},"legend":{"orient":"none","legendX":2,"legendY":-5,"title":"side"}}}},
{"data":{"name":"cv"},"transform":[{"filter":"datum.r==1 && datum.s=='Arg2'"}],"mark":{"type":"area","orient":"vertical","interpolate":"monotone","stroke":"#404040","strokeWidth":0.9,"opacity":1},
 "encoding":{"x":{"field":"x","type":"quantitative","scale":{"domain":[-2.579,1.563],"nice":false,"zero":false},"axis":null},
 "y":{"field":"d","type":"quantitative","scale":{"domain":[-0.5,2.5],"reverse":true,"nice":false,"zero":false},"axis":null},"y2":{"datum":0},
 "color":{"field":"s","type":"nominal","scale":{"domain":["Arg1","Arg2"],"range":["#3274a1","#e1812c"]}}}},
{"data":{"name":"cv"},"transform":[{"filter":"datum.r==2 && datum.s=='Arg1'"}],"mark":{"type":"area","orient":"vertical","interpolate":"monotone","stroke":"#404040","strokeWidth":0.9,"opacity":1},
 "encoding":{"x":{"field":"x","type":"quantitative","scale":{"domain":[-2.579,1.563],"nice":false,"zero":false},"axis":null},
 "y":{"field":"d","type":"quantitative","scale":{"domain":[-1.5,1.5],"nice":false,"zero":false},"axis":null},"y2":{"datum":0},
 "color":{"field":"s","type":"nominal","scale":{"domain":["Arg1","Arg2"],"range":["#3274a1","#e1812c"]}}}},
{"data":{"name":"cv"},"transform":[{"filter":"datum.r==2 && datum.s=='Arg2'"}],"mark":{"type":"area","orient":"vertical","interpolate":"monotone","stroke":"#404040","strokeWidth":0.9,"opacity":1},
 "encoding":{"x":{"field":"x","type":"quantitative","scale":{"domain":[-2.579,1.563],"nice":false,"zero":false},"axis":null},
 "y":{"field":"d","type":"quantitative","scale":{"domain":[-1.5,1.5],"reverse":true,"nice":false,"zero":false},"axis":null},"y2":{"datum":0},
 "color":{"field":"s","type":"nominal","scale":{"domain":["Arg1","Arg2"],"range":["#3274a1","#e1812c"]}}}},
{"data":{"name":"cv"},"transform":[{"filter":"datum.r==3 && datum.s=='Arg1'"}],"mark":{"type":"area","orient":"vertical","interpolate":"monotone","stroke":"#404040","strokeWidth":0.9,"opacity":1},
 "encoding":{"x":{"field":"x","type":"quantitative","scale":{"domain":[-2.579,1.563],"nice":false,"zero":false},"axis":null},
 "y":{"field":"d","type":"quantitative","scale":{"domain":[-0.5,2.5],"nice":false,"zero":false},"axis":null},"y2":{"datum":0},
 "color":{"field":"s","type":"nominal","scale":{"domain":["Arg1","Arg2"],"range":["#3274a1","#e1812c"]}}}},
{"data":{"name":"cv"},"transform":[{"filter":"datum.r==3 && datum.s=='Arg2'"}],"mark":{"type":"area","orient":"vertical","interpolate":"monotone","stroke":"#404040","strokeWidth":0.9,"opacity":1},
 "encoding":{"x":{"field":"x","type":"quantitative","scale":{"domain":[-2.579,1.563],"nice":false,"zero":false},"axis":null},
 "y":{"field":"d","type":"quantitative","scale":{"domain":[-2.5,0.5],"reverse":true,"nice":false,"zero":false},"axis":null},"y2":{"datum":0},
 "color":{"field":"s","type":"nominal","scale":{"domain":["Arg1","Arg2"],"range":["#3274a1","#e1812c"]}}}},
{"data":{"name":"cr"},"mark":{"type":"rule","color":"#404040","strokeWidth":1},
 "encoding":{"x":{"field":"wlo","type":"quantitative","scale":{"domain":[-2.579,1.563],"nice":false,"zero":false},"axis":null},"x2":{"field":"whi"},
 "y":{"field":"r","type":"quantitative","scale":{"domain":[0.5,3.5],"reverse":true,"nice":false,"zero":false},"axis":null}}},
{"data":{"name":"cr"},"mark":{"type":"rule","color":"#404040","strokeWidth":3.5},
 "encoding":{"x":{"field":"q1","type":"quantitative","scale":{"domain":[-2.579,1.563],"nice":false,"zero":false},"axis":null},"x2":{"field":"q3"},
 "y":{"field":"r","type":"quantitative","scale":{"domain":[0.5,3.5],"reverse":true,"nice":false,"zero":false},"axis":null}}},
{"data":{"name":"cr"},"mark":{"type":"circle","color":"white","size":7,"opacity":1},
 "encoding":{"x":{"field":"med","type":"quantitative","scale":{"domain":[-2.579,1.563],"nice":false,"zero":false},"axis":null},
 "y":{"field":"r","type":"quantitative","scale":{"domain":[0.5,3.5],"reverse":true,"nice":false,"zero":false},"axis":null}}},
{"data":{"name":"cr"},"transform":[{"filter":"datum.label!='on the contrary'"}],"mark":{"type":"point","shape":"M-1,-0.2922H1V0.2922H-1Z","size":5929,"filled":true,"fill":"white","stroke":"#b94a55","strokeWidth":1.5,"opacity":1},
 "encoding":{"x":{"datum":-2.7493,"type":"quantitative","scale":{"domain":[-2.579,1.563],"nice":false,"zero":false},"axis":null},
 "y":{"field":"r","type":"quantitative","scale":{"domain":[0.4995,3.5697],"reverse":true,"nice":false,"zero":false},"axis":null}}},
{"data":{"name":"cr"},"transform":[{"filter":"datum.label=='on the contrary'"}],"mark":{"type":"point","shape":"M-1,-0.2123H1V0.2123H-1Z","size":11236,"filled":true,"fill":"white","stroke":"#b94a55","strokeWidth":1.5,"opacity":1},
 "encoding":{"x":{"datum":-2.5667,"type":"quantitative","scale":{"domain":[-2.579,1.563],"nice":false,"zero":false},"axis":null},
 "y":{"field":"r","type":"quantitative","scale":{"domain":[0.4995,3.5697],"reverse":true,"nice":false,"zero":false},"axis":null}}},
{"data":{"name":"cr"},"mark":{"type":"text","align":"left","baseline":"middle","font":"Lato","fontSize":12.5,"color":"#111111"},
 "encoding":{"x":{"datum":-3.1547,"type":"quantitative","scale":{"domain":[-2.579,1.563],"nice":false,"zero":false},"axis":null},
 "y":{"field":"r","type":"quantitative","scale":{"domain":[0.4995,3.5697],"reverse":true,"nice":false,"zero":false},"axis":null},"text":{"field":"label"}}},
{"data":{"name":"cr"},"mark":{"type":"text","align":"center","baseline":"middle","dy":-19,"font":"Lato","fontSize":13,"color":"#111111"},
 "encoding":{"x":{"datum":-2.9482,"type":"quantitative","scale":{"domain":[-2.579,1.563],"nice":false,"zero":false},"axis":null},
 "y":{"field":"r","type":"quantitative","scale":{"domain":[0.4995,3.5697],"reverse":true,"nice":false,"zero":false},"axis":null},"text":{"field":"num"}}},
{"data":{"name":"cr"},"mark":{"type":"text","align":"left","baseline":"middle","font":"Lato","fontSize":12.5,"color":"#111111"},
 "encoding":{"x":{"datum":0.0775,"type":"quantitative","scale":{"domain":[-2.579,1.563],"nice":false,"zero":false},"axis":null},
 "y":{"field":"r","type":"quantitative","scale":{"domain":[0.87,3.71],"reverse":true,"nice":false,"zero":false},"axis":null},"text":{"field":"l1"}}},
{"data":{"name":"cr"},"mark":{"type":"text","align":"left","baseline":"middle","dy":16,"font":"Lato","fontSize":12.5,"color":"#111111"},
 "encoding":{"x":{"datum":0.0775,"type":"quantitative","scale":{"domain":[-2.579,1.563],"nice":false,"zero":false},"axis":null},
 "y":{"field":"r","type":"quantitative","scale":{"domain":[0.87,3.71],"reverse":true,"nice":false,"zero":false},"axis":null},"text":{"field":"l2"}}}
]
},
{
"width":325,"height":284,"view":{"stroke":null},
"title":{"text":"Señal Adjetivo","font":"Lato","fontSize":14.5,"fontWeight":"normal","color":"#111111","anchor":"middle","frame":"group","dx":-26.2,"offset":-6,"baseline":"middle"},
"resolve":{"scale":{"y":"independent"},"axis":{"x":"independent","y":"independent"}},
"layer":[
{"data":{"name":"dv"},"transform":[{"filter":"datum.r==1 && datum.s=='Arg1'"}],"mark":{"type":"area","orient":"vertical","interpolate":"monotone","stroke":"#404040","strokeWidth":0.9,"opacity":1},
 "encoding":{"x":{"field":"x","type":"quantitative","scale":{"domain":[-1.0,1.918],"nice":false,"zero":false},"axis":{"values":[-1,-0.5,0,0.5,1,1.5],"labelExpr":"replace(format(datum.value,'.1f'),'−','-')","title":"(d)","titleX":136,"titleY":36,"titleBaseline":"middle","titleAlign":"center"}},
 "y":{"field":"d","type":"quantitative","scale":{"domain":[-2.5,0.5],"nice":false,"zero":false},"axis":null},"y2":{"datum":0},
 "color":{"field":"s","type":"nominal","scale":{"domain":["Arg1","Arg2"],"range":["#3274a1","#e1812c"]},"legend":{"orient":"none","legendX":-20,"legendY":-3,"title":"side"}}}},
{"data":{"name":"dv"},"transform":[{"filter":"datum.r==1 && datum.s=='Arg2'"}],"mark":{"type":"area","orient":"vertical","interpolate":"monotone","stroke":"#404040","strokeWidth":0.9,"opacity":1},
 "encoding":{"x":{"field":"x","type":"quantitative","scale":{"domain":[-1.0,1.918],"nice":false,"zero":false},"axis":null},
 "y":{"field":"d","type":"quantitative","scale":{"domain":[-0.5,2.5],"reverse":true,"nice":false,"zero":false},"axis":null},"y2":{"datum":0},
 "color":{"field":"s","type":"nominal","scale":{"domain":["Arg1","Arg2"],"range":["#3274a1","#e1812c"]}}}},
{"data":{"name":"dv"},"transform":[{"filter":"datum.r==2 && datum.s=='Arg1'"}],"mark":{"type":"area","orient":"vertical","interpolate":"monotone","stroke":"#404040","strokeWidth":0.9,"opacity":1},
 "encoding":{"x":{"field":"x","type":"quantitative","scale":{"domain":[-1.0,1.918],"nice":false,"zero":false},"axis":null},
 "y":{"field":"d","type":"quantitative","scale":{"domain":[-1.5,1.5],"nice":false,"zero":false},"axis":null},"y2":{"datum":0},
 "color":{"field":"s","type":"nominal","scale":{"domain":["Arg1","Arg2"],"range":["#3274a1","#e1812c"]}}}},
{"data":{"name":"dv"},"transform":[{"filter":"datum.r==2 && datum.s=='Arg2'"}],"mark":{"type":"area","orient":"vertical","interpolate":"monotone","stroke":"#404040","strokeWidth":0.9,"opacity":1},
 "encoding":{"x":{"field":"x","type":"quantitative","scale":{"domain":[-1.0,1.918],"nice":false,"zero":false},"axis":null},
 "y":{"field":"d","type":"quantitative","scale":{"domain":[-1.5,1.5],"reverse":true,"nice":false,"zero":false},"axis":null},"y2":{"datum":0},
 "color":{"field":"s","type":"nominal","scale":{"domain":["Arg1","Arg2"],"range":["#3274a1","#e1812c"]}}}},
{"data":{"name":"dv"},"transform":[{"filter":"datum.r==3 && datum.s=='Arg1'"}],"mark":{"type":"area","orient":"vertical","interpolate":"monotone","stroke":"#404040","strokeWidth":0.9,"opacity":1},
 "encoding":{"x":{"field":"x","type":"quantitative","scale":{"domain":[-1.0,1.918],"nice":false,"zero":false},"axis":null},
 "y":{"field":"d","type":"quantitative","scale":{"domain":[-0.5,2.5],"nice":false,"zero":false},"axis":null},"y2":{"datum":0},
 "color":{"field":"s","type":"nominal","scale":{"domain":["Arg1","Arg2"],"range":["#3274a1","#e1812c"]}}}},
{"data":{"name":"dv"},"transform":[{"filter":"datum.r==3 && datum.s=='Arg2'"}],"mark":{"type":"area","orient":"vertical","interpolate":"monotone","stroke":"#404040","strokeWidth":0.9,"opacity":1},
 "encoding":{"x":{"field":"x","type":"quantitative","scale":{"domain":[-1.0,1.918],"nice":false,"zero":false},"axis":null},
 "y":{"field":"d","type":"quantitative","scale":{"domain":[-2.5,0.5],"reverse":true,"nice":false,"zero":false},"axis":null},"y2":{"datum":0},
 "color":{"field":"s","type":"nominal","scale":{"domain":["Arg1","Arg2"],"range":["#3274a1","#e1812c"]}}}},
{"data":{"name":"dr"},"mark":{"type":"rule","color":"#404040","strokeWidth":1},
 "encoding":{"x":{"field":"wlo","type":"quantitative","scale":{"domain":[-1.0,1.918],"nice":false,"zero":false},"axis":null},"x2":{"field":"whi"},
 "y":{"field":"r","type":"quantitative","scale":{"domain":[0.5,3.5],"reverse":true,"nice":false,"zero":false},"axis":null}}},
{"data":{"name":"dr"},"mark":{"type":"rule","color":"#404040","strokeWidth":3.5},
 "encoding":{"x":{"field":"q1","type":"quantitative","scale":{"domain":[-1.0,1.918],"nice":false,"zero":false},"axis":null},"x2":{"field":"q3"},
 "y":{"field":"r","type":"quantitative","scale":{"domain":[0.5,3.5],"reverse":true,"nice":false,"zero":false},"axis":null}}},
{"data":{"name":"dr"},"mark":{"type":"circle","color":"white","size":7,"opacity":1},
 "encoding":{"x":{"field":"med","type":"quantitative","scale":{"domain":[-1.0,1.918],"nice":false,"zero":false},"axis":null},
 "y":{"field":"r","type":"quantitative","scale":{"domain":[0.5,3.5],"reverse":true,"nice":false,"zero":false},"axis":null}}},
{"data":{"name":"dr"},"mark":{"type":"point","shape":"M-1,-0.2987H1V0.2987H-1Z","size":5929,"filled":true,"fill":"white","stroke":"#b94a55","strokeWidth":1.5,"opacity":1},
 "encoding":{"x":{"datum":-1.1615,"type":"quantitative","scale":{"domain":[-1.0,1.918],"nice":false,"zero":false},"axis":null},
 "y":{"field":"r","type":"quantitative","scale":{"domain":[0.4329,3.5849],"reverse":true,"nice":false,"zero":false},"axis":null}}},
{"data":{"name":"dr"},"mark":{"type":"text","align":"left","baseline":"middle","font":"Lato","fontSize":12.5,"color":"#111111"},
 "encoding":{"x":{"datum":-1.4444,"type":"quantitative","scale":{"domain":[-1.0,1.918],"nice":false,"zero":false},"axis":null},
 "y":{"field":"r","type":"quantitative","scale":{"domain":[0.4329,3.5849],"reverse":true,"nice":false,"zero":false},"axis":{"orient":"left","offset":24,"labels":false,"ticks":false,"title":null,"grid":false}},"text":{"field":"label"}}},
{"data":{"name":"dr"},"mark":{"type":"text","align":"center","baseline":"middle","dy":-20,"font":"Lato","fontSize":13,"color":"#111111"},
 "encoding":{"x":{"datum":-1.3007,"type":"quantitative","scale":{"domain":[-1.0,1.918],"nice":false,"zero":false},"axis":null},
 "y":{"field":"r","type":"quantitative","scale":{"domain":[0.4329,3.5849],"reverse":true,"nice":false,"zero":false},"axis":{"orient":"right","labels":false,"ticks":false,"title":null,"grid":false}},"text":{"field":"num"}}},
{"data":{"name":"dr"},"transform":[{"filter":"datum.r!=2"}],"mark":{"type":"text","align":"left","baseline":"middle","font":"Lato","fontSize":12.5,"color":"#111111"},
 "encoding":{"x":{"datum":0.8133,"type":"quantitative","scale":{"domain":[-1.0,1.918],"nice":false,"zero":false},"axis":{"orient":"top","labels":false,"ticks":false,"title":null,"grid":false}},
 "y":{"field":"r","type":"quantitative","scale":{"domain":[0.84375,3.8021],"reverse":true,"nice":false,"zero":false},"axis":null},"text":{"field":"l1"}}},
{"data":{"name":"dr"},"transform":[{"filter":"datum.r!=2"}],"mark":{"type":"text","align":"left","baseline":"middle","dy":16,"font":"Lato","fontSize":12.5,"color":"#111111"},
 "encoding":{"x":{"datum":0.8133,"type":"quantitative","scale":{"domain":[-1.0,1.918],"nice":false,"zero":false},"axis":null},
 "y":{"field":"r","type":"quantitative","scale":{"domain":[0.84375,3.8021],"reverse":true,"nice":false,"zero":false},"axis":null},"text":{"field":"l2"}}},
{"data":{"name":"dr"},"transform":[{"filter":"datum.r==2"}],"mark":{"type":"text","align":"left","baseline":"middle","dy":-7,"font":"Lato","fontSize":12.5,"color":"#111111"},
 "encoding":{"x":{"datum":0.8133,"type":"quantitative","scale":{"domain":[-1.0,1.918],"nice":false,"zero":false},"axis":null},
 "y":{"field":"r","type":"quantitative","scale":{"domain":[0.84375,3.8021],"reverse":true,"nice":false,"zero":false},"axis":null},"text":{"field":"l1"}}},
{"data":{"name":"dr"},"transform":[{"filter":"datum.r==2"}],"mark":{"type":"text","align":"left","baseline":"middle","dy":9,"font":"Lato","fontSize":12.5,"color":"#111111"},
 "encoding":{"x":{"datum":0.8133,"type":"quantitative","scale":{"domain":[-1.0,1.918],"nice":false,"zero":false},"axis":null},
 "y":{"field":"r","type":"quantitative","scale":{"domain":[0.84375,3.8021],"reverse":true,"nice":false,"zero":false},"axis":null},"text":{"field":"l2"}}}
]
}
]
}
